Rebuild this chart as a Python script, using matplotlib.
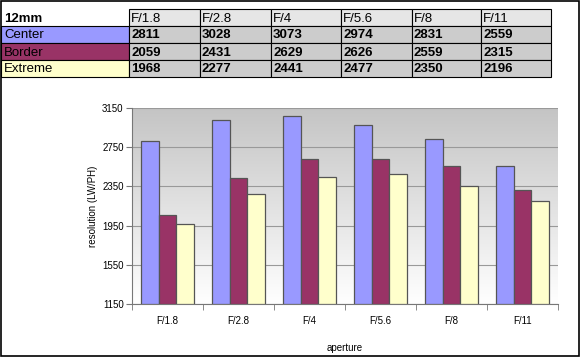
import matplotlib.pyplot as plt
import numpy as np
from matplotlib.patches import Rectangle

plt.rcParams['font.family'] = ['Liberation Sans', 'DejaVu Sans']

apertures = ['F/1.8', 'F/2.8', 'F/4', 'F/5.6', 'F/8', 'F/11']
series = ['Center', 'Border', 'Extreme']
center = [2811, 3028, 3073, 2974, 2831, 2559]
border = [2059, 2431, 2629, 2626, 2559, 2315]
extreme = [1968, 2277, 2441, 2477, 2350, 2196]
colors = ['#9999ff', '#993366', '#ffffcc']

W, H = 583, 357
fig = plt.figure(figsize=(W / 100, H / 100), dpi=100)

# --- table drawn in pixel coords ---
tab = fig.add_axes([0, 0, 1, 1])
tab.set_xlim(0, W)
tab.set_ylim(H, 0)
tab.axis('off')

col_x = [129, 200, 271, 341, 412, 481, 551]
row_y = [9, 26, 43, 60, 77]
fs = 9.5

tab.text(4, (row_y[0] + row_y[1]) / 2 + 1, '12mm', fontsize=fs, fontweight='bold', va='center')
for j, ap in enumerate(apertures):
    tab.add_patch(Rectangle((col_x[j], row_y[0]), col_x[j + 1] - col_x[j], row_y[1] - row_y[0],
                            facecolor='#e6e6e6', edgecolor='black', lw=0.8))
    tab.text(col_x[j] + 2, (row_y[0] + row_y[1]) / 2 + 1, ap, fontsize=fs, va='center')

for i, (name, vals) in enumerate(zip(series, [center, border, extreme])):
    y0, y1 = row_y[i + 1], row_y[i + 2]
    tab.add_patch(Rectangle((1, y0), col_x[0] - 1, y1 - y0, facecolor=colors[i],
                            edgecolor='black', lw=0.8))
    tab.text(4, (y0 + y1) / 2 + 1, name, fontsize=fs, va='center')
    for j, v in enumerate(vals):
        tab.add_patch(Rectangle((col_x[j], y0), col_x[j + 1] - col_x[j], y1 - y0,
                                facecolor='#cccccc', edgecolor='black', lw=0.8))
        tab.text(col_x[j] + 2, (y0 + y1) / 2 + 1, str(v), fontsize=fs, fontweight='bold', va='center')

tab.add_patch(Rectangle((0.5, 0.5), 578, 355, facecolor='none', edgecolor='black', lw=1.2))

# --- bar chart ---
left, right, top, bottom = 132, 558, 108, 304
ax = fig.add_axes([left / W, (H - bottom) / H, (right - left) / W, (bottom - top) / H])

grad = np.linspace(0, 1, 256).reshape(-1, 1)
ax.imshow(grad, extent=[0, 1, 0, 1], transform=ax.transAxes, aspect='auto',
          cmap=plt.matplotlib.colors.LinearSegmentedColormap.from_list('g', ['#ffffff', '#c4c4c4']),
          origin='lower', zorder=0)

x = np.arange(len(apertures))
w = 0.25
for k, vals in enumerate([center, border, extreme]):
    ax.bar(x + (k - 1) * w, np.array(vals) - 1150, bottom=1150, width=w, color=colors[k],
           edgecolor='#555555', linewidth=0.9, zorder=3)

ax.set_xlim(-0.5, len(apertures) - 0.5)
ax.set_ylim(1150, 3150)
ax.set_yticks(np.arange(1150, 3151, 400))
ax.yaxis.grid(True, color='#999999', lw=0.8, zorder=1)
ax.set_axisbelow(True)
ax.set_xticks(x)
ax.set_xticklabels(apertures)
ax.set_xticks(np.arange(-0.5, len(apertures)), minor=True)
ax.tick_params(axis='x', which='major', length=0, labelsize=7, pad=9)
ax.tick_params(axis='x', which='minor', length=4, color='#777777')
ax.tick_params(axis='y', labelsize=7, length=4, color='#777777', pad=2)
for s in ['top', 'right']:
    ax.spines[s].set_visible(False)
ax.spines['left'].set_color('#777777')
ax.spines['bottom'].set_color('#777777')
ax.set_ylabel('resolution (LW/PH)', fontsize=7, labelpad=3)
ax.set_xlabel('aperture', fontsize=7, labelpad=12)

fig.savefig('out.png', dpi=100)
